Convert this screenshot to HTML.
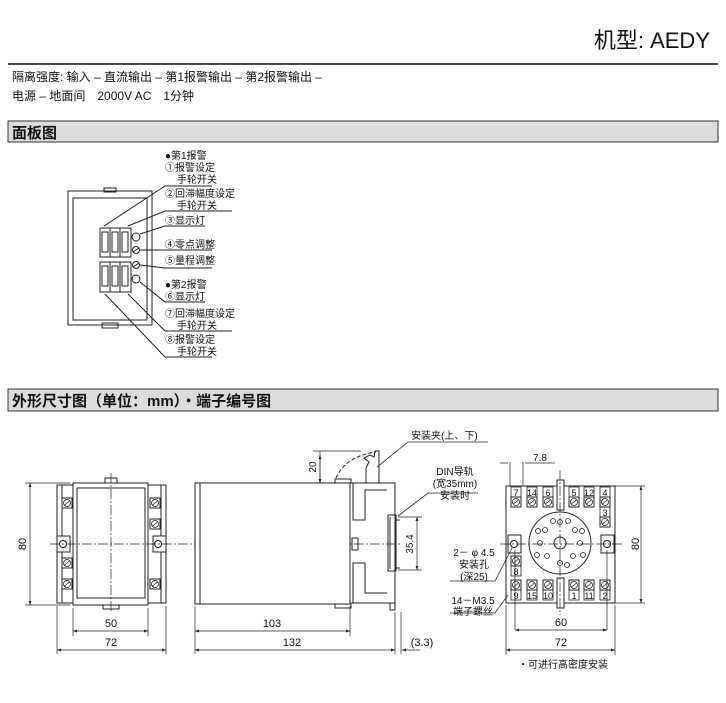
<!DOCTYPE html>
<html><head><meta charset="utf-8"><style>
body{margin:0;background:#fff;width:726px;height:703px;overflow:hidden}
svg{display:block}
text{font-family:"Liberation Sans","Noto Sans CJK SC",sans-serif;fill:#111}
</style></head><body>
<svg width="726" height="703" viewBox="0 0 726 703" xmlns="http://www.w3.org/2000/svg">
<defs>
<g id="scr"><rect x="-5" y="-5" width="10" height="10" fill="#fff" stroke="#222" stroke-width="1"/><circle r="3.5" fill="none" stroke="#222" stroke-width="0.8"/><line x1="-2.5" y1="2" x2="2.5" y2="-2" stroke="#222" stroke-width="0.8"/></g>
<marker id="ar" viewBox="0 0 8 6" refX="8" refY="3" markerWidth="6" markerHeight="5" orient="auto-start-reverse"><path d="M0,0L8,3L0,6z" fill="#222"/></marker>
</defs>
<text x="710" y="48" font-size="22" text-anchor="end">机型: AEDY</text>
<line x1="8" y1="64" x2="718" y2="64" stroke="#111" stroke-width="1.5"/>
<text x="12" y="81" font-size="12">隔离强度: 输入 – 直流输出 – 第1报警输出 – 第2报警输出 –</text>
<text x="12" y="100" font-size="12">电源 – 地面间　2000V AC　1分钟</text>
<rect x="8" y="121" width="710" height="21" fill="#dcdcdc" stroke="#333" stroke-width="1"/>
<text x="12" y="138" font-size="15" font-weight="bold">面板图</text>
<rect x="8" y="389" width="710" height="22" fill="#dcdcdc" stroke="#333" stroke-width="1"/>
<text x="12" y="406" font-size="15" font-weight="bold">外形尺寸图（单位：mm）・端子编号图</text>

<!-- panel -->
<g stroke="#222" fill="none" stroke-width="1">
<rect x="104" y="188" width="12" height="4" fill="#fff"/>
<rect x="68" y="191" width="84" height="134"/>
<rect x="73" y="198" width="74" height="122"/>
<rect x="102" y="323" width="16" height="5"/>
<rect x="100" y="228" width="31" height="29" fill="#fff"/>
<rect x="100" y="262" width="31" height="30" fill="#fff"/>
<path d="M110 228v29M120 228v29M110 262v30M120 262v30"/>
<rect x="102" y="232" width="6" height="20"/><rect x="112" y="232" width="6" height="20"/><rect x="122" y="232" width="6" height="20"/>
<rect x="102" y="266" width="6" height="20"/><rect x="112" y="266" width="6" height="20"/><rect x="122" y="266" width="6" height="20"/>
<circle cx="136" cy="237" r="4"/><circle cx="136" cy="250" r="3.5"/><line x1="133" y1="252" x2="139" y2="248"/>
<circle cx="136" cy="265" r="3.5"/><line x1="133" y1="267" x2="139" y2="263"/><circle cx="136" cy="279" r="4"/>
<path d="M104 226L165 186H212M128 226L165 211H232M140 234L165 226H205M140 250H212M140 265L165 268H212M140 282L165 302H205M128 294L165 331H232M105 294L165 357H212"/>
</g>
<g font-size="10">
<text x="165" y="159">●第1报警</text><text x="165" y="171">①报警设定</text><text x="177" y="183">手轮开关</text>
<text x="165" y="197">②回滞幅度设定</text><text x="177" y="209">手轮开关</text>
<text x="165" y="224">③显示灯</text><text x="165" y="248">④零点调整</text><text x="165" y="264">⑤量程调整</text>
<text x="165" y="288">●第2报警</text><text x="165" y="300">⑥显示灯</text>
<text x="165" y="317">⑦回滞幅度设定</text><text x="177" y="329">手轮开关</text>
<text x="165" y="343">⑧报警设定</text><text x="177" y="355">手轮开关</text>
</g>

<!-- front view -->
<g stroke="#222" fill="none" stroke-width="1">
<rect x="57" y="485" width="109" height="118"/>
<line x1="62" y1="485" x2="62" y2="603"/><line x1="161" y1="485" x2="161" y2="603"/>
<rect x="73" y="483" width="75" height="122" fill="#fff"/>
<rect x="77" y="488" width="68" height="110"/>
<rect x="105" y="478" width="12" height="5"/><rect x="103" y="605" width="16" height="4"/>
<rect x="57" y="536" width="13" height="16" fill="#fff"/><circle cx="63" cy="544" r="3.5"/>
<rect x="153" y="536" width="13" height="16" fill="#fff"/><circle cx="158" cy="544" r="3.5"/>
<g stroke-dasharray="10,2,2,2" stroke-width="0.7"><line x1="50" y1="544" x2="400" y2="544"/><line x1="111" y1="473" x2="111" y2="612"/></g>
</g>
<use href="#scr" x="67" y="503"/><use href="#scr" x="67" y="563"/><use href="#scr" x="67" y="584"/>
<use href="#scr" x="155" y="503"/><use href="#scr" x="155" y="524"/><use href="#scr" x="155" y="584"/>

<!-- side view -->
<g stroke="#222" fill="none" stroke-width="1">
<rect x="195" y="483" width="155" height="121" fill="#fff"/>
<line x1="200" y1="483" x2="200" y2="604"/>
<path d="M335 483v-4h16v4M335 604v4h16v-4"/>
<path d="M350 483h45v120h-45"/>
<path d="M353 483v37h12v-30h22M353 603v-40h12v30h22"/>
<path d="M366 483v-15l3-6-5-4 6-3 4 2 1-6h4v32"/>
<path d="M336 478 q10-22 40-26" stroke-dasharray="4,2"/>
<rect x="352" y="538" width="6" height="12"/>
<path d="M388 515h8v56h-8zM390 517v52M396 520h4M396 568h4"/>
<rect x="390" y="603" width="5" height="7"/>
<path d="M320 451v32M313 451h48" stroke-width="0.7"/>
<line x1="320" y1="455" x2="320" y2="483" marker-start="url(#ar)" marker-end="url(#ar)" stroke-width="0.7"/>
<path d="M398 517h24M398 570h24" stroke-width="0.7"/>
<line x1="417" y1="517" x2="417" y2="570" marker-start="url(#ar)" marker-end="url(#ar)" stroke-width="0.7"/>
<path d="M377 467L408 442H488M398 516L428 493H478" stroke-width="0.8"/>
</g>
<text x="316" y="467" font-size="10" transform="rotate(-90 316 467)" text-anchor="middle">20</text>
<text x="413" y="544" font-size="10" transform="rotate(-90 413 544)" text-anchor="middle">35.4</text>
<g font-size="10"><text x="411" y="439">安装夹(上、下)</text>
<text x="455" y="475" text-anchor="middle">DIN导轨</text><text x="455" y="487" text-anchor="middle">(宽35mm)</text><text x="455" y="499" text-anchor="middle">安装时</text></g>

<!-- dimensions left -->
<g stroke="#222" stroke-width="0.7" fill="none">
<path d="M25 483h45M25 605h45"/>
<line x1="30" y1="483" x2="30" y2="605" marker-start="url(#ar)" marker-end="url(#ar)"/>
<path d="M73 608v28M148 608v28M57 606v48M166 606v48M195 606v48M350 606v30M395 612v42M401 612v42"/>
<line x1="73" y1="631" x2="148" y2="631" marker-start="url(#ar)" marker-end="url(#ar)"/>
<line x1="57" y1="650" x2="166" y2="650" marker-start="url(#ar)" marker-end="url(#ar)"/>
<line x1="195" y1="631" x2="350" y2="631" marker-start="url(#ar)" marker-end="url(#ar)"/>
<line x1="195" y1="650" x2="395" y2="650" marker-start="url(#ar)" marker-end="url(#ar)"/>
<line x1="420" y1="650" x2="402" y2="650" marker-end="url(#ar)"/>
</g>
<g font-size="11" text-anchor="middle">
<text x="26" y="544" transform="rotate(-90 26 544)">80</text>
<text x="111" y="627">50</text><text x="111" y="646">72</text>
<text x="272" y="627">103</text><text x="292" y="646">132</text>
<text x="422" y="646">(3.3)</text></g>

<!-- socket -->
<g stroke="#222" fill="none" stroke-width="1">
<rect x="506" y="486" width="109" height="117" fill="#fff"/>
<rect x="557" y="480" width="7" height="30" fill="#fff"/><rect x="557" y="578" width="7" height="30" fill="#fff"/>
<circle cx="560" cy="543" r="31"/><circle cx="560" cy="543" r="6"/>
<g stroke-width="0.8">
<circle cx="560" cy="522" r="2.5"/><circle cx="545" cy="530" r="2.5"/><circle cx="575" cy="530" r="2.5"/>
<circle cx="540" cy="543" r="2.5"/><circle cx="580" cy="543" r="2.5"/><circle cx="547" cy="556" r="2.5"/>
<circle cx="573" cy="556" r="2.5"/><circle cx="560" cy="563" r="2.5"/><circle cx="553" cy="521" r="2.5"/>
<circle cx="538" cy="531" r="2.5"/><circle cx="582" cy="531" r="2.5"/><circle cx="537" cy="555" r="2.5"/>
<circle cx="583" cy="555" r="2.5"/><circle cx="567" cy="565" r="2.5"/><circle cx="568" cy="521" r="2.5"/></g>
<rect x="508" y="535" width="13" height="18" fill="#fff"/><circle cx="514" cy="544" r="3.5"/>
<rect x="601" y="535" width="13" height="18" fill="#fff"/><circle cx="607" cy="544" r="3.5"/>
<g stroke-dasharray="10,2,2,2" stroke-width="0.7"><line x1="500" y1="544" x2="622" y2="544"/><line x1="560" y1="470" x2="560" y2="615"/></g>
<g stroke-width="0.8">
<rect x="511" y="487" width="10" height="10"/><rect x="527" y="487" width="10" height="10"/><rect x="543" y="487" width="10" height="10"/>
<rect x="569" y="487" width="10" height="10"/><rect x="584" y="487" width="10" height="10"/><rect x="600" y="487" width="10" height="10"/>
<rect x="600" y="507" width="10" height="10"/><rect x="511" y="566" width="10" height="10"/>
<rect x="511" y="590" width="10" height="10"/><rect x="527" y="590" width="10" height="10"/><rect x="543" y="590" width="10" height="10"/>
<rect x="569" y="590" width="10" height="10"/><rect x="584" y="590" width="10" height="10"/><rect x="600" y="590" width="10" height="10"/>
</g>
</g>
<use href="#scr" x="516" y="502"/><use href="#scr" x="532" y="502"/><use href="#scr" x="548" y="502"/>
<use href="#scr" x="574" y="502"/><use href="#scr" x="589" y="502"/><use href="#scr" x="605" y="502"/>
<use href="#scr" x="605" y="522"/><use href="#scr" x="516" y="561"/>
<use href="#scr" x="516" y="585"/><use href="#scr" x="532" y="585"/><use href="#scr" x="548" y="585"/>
<use href="#scr" x="574" y="585"/><use href="#scr" x="589" y="585"/><use href="#scr" x="605" y="585"/>
<g font-size="9" text-anchor="middle">
<text x="516" y="496">7</text><text x="532" y="496">14</text><text x="548" y="496">6</text>
<text x="574" y="496">5</text><text x="589" y="496">12</text><text x="605" y="496">4</text>
<text x="605" y="516">3</text><text x="516" y="575">8</text>
<text x="516" y="599">9</text><text x="532" y="599">15</text><text x="548" y="599">10</text>
<text x="574" y="599">1</text><text x="589" y="599">11</text><text x="605" y="599">2</text></g>
<g stroke="#222" stroke-width="0.7" fill="none">
<path d="M510 462v24M523 462v24M500 463h8M525 463h30"/>
<path d="M615 486h30M615 603h30"/>
<line x1="641" y1="486" x2="641" y2="603" marker-start="url(#ar)" marker-end="url(#ar)"/>
<path d="M515 550v80M607 550v80M506 605v50M615 605v50"/>
<line x1="515" y1="630" x2="607" y2="630" marker-start="url(#ar)" marker-end="url(#ar)"/>
<line x1="506" y1="650" x2="615" y2="650" marker-start="url(#ar)" marker-end="url(#ar)"/>
<path d="M450 581h45L512 548M450 613h45L508 595"/>
</g>
<g font-size="10" text-anchor="middle">
<text x="540" y="461">7.8</text>
<text x="639" y="544" font-size="11" transform="rotate(-90 639 544)">80</text>
<text x="561" y="626" font-size="11">60</text><text x="561" y="646" font-size="11">72</text>
<text x="474" y="556">2－ φ 4.5</text><text x="474" y="568">安装孔</text><text x="474" y="580">(深25)</text>
<text x="473" y="604">14－M3.5</text><text x="473" y="615">端子螺丝</text>
<text x="563" y="668">・可进行高密度安装</text></g>
</svg>
</body></html>
